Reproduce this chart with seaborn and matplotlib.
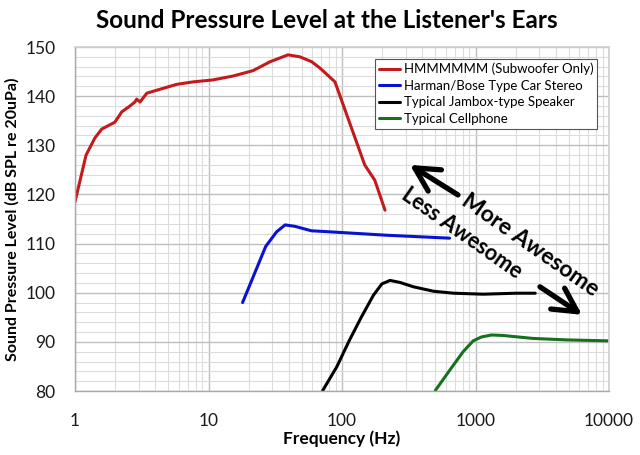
import numpy as np
import pandas as pd
import matplotlib
matplotlib.use("Agg")
import matplotlib.pyplot as plt
from matplotlib.ticker import LogLocator, MultipleLocator, FixedLocator, FixedFormatter, NullFormatter
import seaborn as sns

# ---- data ----
red_f = [1, 1.21, 1.41, 1.585, 1.99, 2.24, 2.58, 2.81, 2.9, 3.07, 3.45, 4.33, 5.78, 7.66,
         10.8, 15.3, 21.6, 28.9, 39.4, 48.4, 59.3, 68.5, 88.6, 148, 176, 210]
red_db = [118.5, 128.0, 131.5, 133.3, 134.7, 136.8, 138.0, 138.8, 139.4, 138.8, 140.6, 141.4,
          142.4, 142.9, 143.3, 144.1, 145.2, 147.0, 148.4, 148.0, 147.0, 145.7, 142.9, 126.0,
          122.9, 116.8]
blue_f = [18, 26.8, 32.4, 37.5, 44.5, 59, 80, 215, 640]
blue_db = [98.0, 109.4, 112.4, 113.8, 113.5, 112.6, 112.4, 111.7, 111.1]
black_f = [71.7, 91.3, 114, 140, 172, 199, 229, 271, 343, 485, 685, 1140, 2030, 2800]
black_db = [80.1, 84.9, 90.4, 95.1, 99.5, 101.8, 102.5, 102.1, 101.2, 100.3, 99.9, 99.7,
            99.9, 99.9]
green_f = [500, 644, 808, 960, 1110, 1318, 1610, 2690, 4800, 10000]
green_db = [80.1, 84.3, 88.0, 90.2, 91.0, 91.4, 91.3, 90.7, 90.4, 90.2]

series_names = ["HMMMMMM (Subwoofer Only)", "Harman/Bose Type Car Stereo",
                "Typical Jambox-type Speaker", "Typical Cellphone"]
series_colors = ["#C41A1C", "#0A12D2", "#000000", "#17701E"]

x_ticks = [1, 10, 100, 1000, 10000]
x_ticklabels = ["1", "10", "100", "1000", "10000"]
y_ticks = [80, 90, 100, 110, 120, 130, 140, 150]

title = "Sound Pressure Level at the Listener's Ears"
xlabel = "Frequency (Hz)"
ylabel = "Sound Pressure Level (dB SPL re 20uPa)"

frames = []
for name, f, d in zip(series_names, [red_f, blue_f, black_f, green_f],
                      [red_db, blue_db, black_db, green_db]):
    frames.append(pd.DataFrame({"Frequency": f, "SPL": d, "Series": name}))
df = pd.concat(frames, ignore_index=True)

sns.set_theme(style="white")
plt.rcParams["font.family"] = ["Lato", "DejaVu Sans"]
plt.rcParams["text.color"] = "black"
plt.rcParams["axes.labelcolor"] = "black"

fig = plt.figure(figsize=(6.4, 4.55), dpi=100)
ax = fig.add_axes([75/640, 1-391/455, (609-75)/640, (391-47)/455])

sns.lineplot(data=df, x="Frequency", y="SPL", hue="Series", hue_order=series_names,
             palette=dict(zip(series_names, series_colors)), linewidth=2.2,
             sort=False, estimator=None, ax=ax, legend=True)

ax.set_xscale("log")
ax.set_xlim(1, 10000)
ax.set_ylim(80, 150)
ax.xaxis.set_major_locator(FixedLocator(x_ticks))
ax.xaxis.set_major_formatter(FixedFormatter(x_ticklabels))
ax.xaxis.set_minor_locator(LogLocator(base=10, subs=np.arange(2, 10)))
ax.xaxis.set_minor_formatter(NullFormatter())
ax.set_yticks(y_ticks)
ax.yaxis.set_minor_locator(MultipleLocator(2))

ax.grid(which="major", color="#BEBEBE", linewidth=1.0)
ax.grid(which="minor", color="#DCDCDC", linewidth=0.8)
ax.set_axisbelow(True)
ax.tick_params(which="both", length=0)
ax.tick_params(axis="x", labelsize=12.5, pad=16, colors="#1A1A1A")
ax.tick_params(axis="y", labelsize=12.5, pad=14, colors="#1A1A1A")
for s in ["top", "right"]:
    ax.spines[s].set_color("#D0D0D0")
for s in ["left", "bottom"]:
    ax.spines[s].set_color("#A8A8A8")
    ax.spines[s].set_linewidth(1.0)

ax.set_xlabel(xlabel, fontsize=12.5, fontweight="bold", labelpad=1)
ax.set_ylabel(ylabel, fontsize=11.5, fontweight="bold", labelpad=4)
fig.text(0.51, 0.955, title, ha="center", va="center", fontsize=17.5, fontweight="bold")

leg = ax.legend(loc="upper right", bbox_to_anchor=(0.978, 0.966), fontsize=9.5,
                frameon=True, fancybox=False, handlelength=1.6, handletextpad=0.3,
                borderpad=0.3, labelspacing=0.35, borderaxespad=0)
leg.get_frame().set_edgecolor("#555555")
leg.get_frame().set_linewidth(0.8)
leg.get_frame().set_alpha(1)
for h in leg.get_lines():
    h.set_linewidth(2.2)
for t in leg.get_texts():
    t.set_color("black")

# annotations
arrow_kw = dict(arrowstyle="->,head_length=0.85,head_width=0.45", lw=3.8, color="black",
                shrinkA=0, shrinkB=0, mutation_scale=20)
ax.annotate("", xy=(323, 126.0), xytext=(739, 119.9), arrowprops=arrow_kw)
ax.annotate("", xy=(6280, 95.5), xytext=(3040, 101.2), arrowprops=arrow_kw)
ax.text(2560, 109.7, "More Awesome", rotation=-35, rotation_mode="anchor",
        ha="center", va="center", fontsize=16.5, fontweight="bold", color="black")
ax.text(792, 112.1, "Less Awesome", rotation=-35, rotation_mode="anchor",
        ha="center", va="center", fontsize=15.5, fontweight="bold", color="black")

fig.savefig("out.png", dpi=100)
